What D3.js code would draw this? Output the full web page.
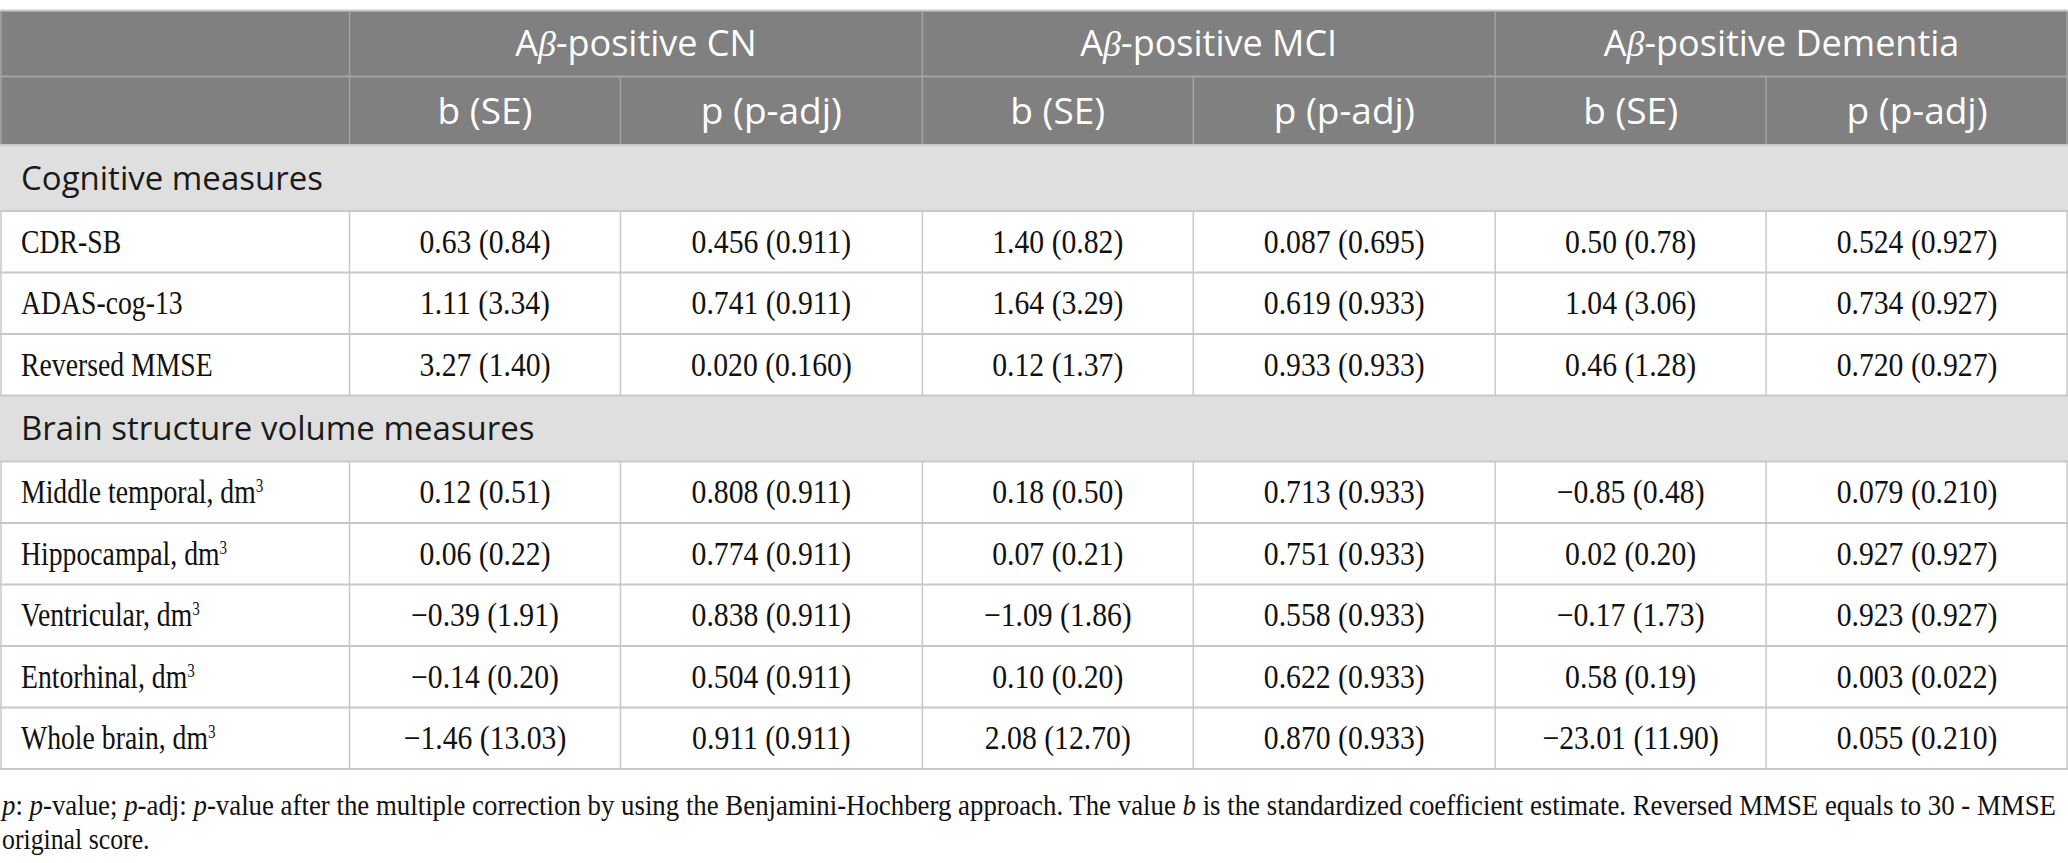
<!DOCTYPE html>
<html><head><meta charset="utf-8">
<script src="https://cdn.jsdelivr.net/npm/d3@7"></script>
<style>html,body{margin:0;padding:0;background:#fff;overflow:hidden} svg{display:block}</style>
</head><body><div id="chart"></div>
<script>
// ---- data ----
const groups = ["Aβ-positive CN", "Aβ-positive MCI", "Aβ-positive Dementia"];
const subHeaders = ["b (SE)", "p (p-adj)"];
const sections = ["Cognitive measures", "Brain structure volume measures"];
const cognitiveRows = ["CDR-SB", "ADAS-cog-13", "Reversed MMSE"];
const brainRows = ["Middle temporal", "Hippocampal", "Ventricular", "Entorhinal", "Whole brain"];
const cnB  = ["0.63 (0.84)", "1.11 (3.34)", "3.27 (1.40)", "0.12 (0.51)", "0.06 (0.22)", "−0.39 (1.91)", "−0.14 (0.20)", "−1.46 (13.03)"];
const cnP  = ["0.456 (0.911)", "0.741 (0.911)", "0.020 (0.160)", "0.808 (0.911)", "0.774 (0.911)", "0.838 (0.911)", "0.504 (0.911)", "0.911 (0.911)"];
const mciB = ["1.40 (0.82)", "1.64 (3.29)", "0.12 (1.37)", "0.18 (0.50)", "0.07 (0.21)", "−1.09 (1.86)", "0.10 (0.20)", "2.08 (12.70)"];
const mciP = ["0.087 (0.695)", "0.619 (0.933)", "0.933 (0.933)", "0.713 (0.933)", "0.751 (0.933)", "0.558 (0.933)", "0.622 (0.933)", "0.870 (0.933)"];
const demB = ["0.50 (0.78)", "1.04 (3.06)", "0.46 (1.28)", "−0.85 (0.48)", "0.02 (0.20)", "−0.17 (1.73)", "0.58 (0.19)", "−23.01 (11.90)"];
const demP = ["0.524 (0.927)", "0.734 (0.927)", "0.720 (0.927)", "0.079 (0.210)", "0.927 (0.927)", "0.923 (0.927)", "0.003 (0.022)", "0.055 (0.210)"];
const footLine1 = [["p", true], [": ", false], ["p", true], ["-value; ", false], ["p", true], ["-adj: ", false], ["p", true],
  ["-value after the multiple correction by using the Benjamini-Hochberg approach. The value ", false], ["b", true],
  [" is the standardized coefficient estimate. Reversed MMSE equals to 30 - MMSE", false]];
const footLine2 = "original score.";

// ---- layout ----
const W = 2068, H = 863;
const tableTop = 10.5, labelW = 349.5, bFrac = 0.473;
const rowH = {h1: 66, h2: 68.5, sec: 66, data: 61.5};
const headBg = "#808080", headLine = "#a3a3a3", secBg = "#e0dfe0", gridC = "#c8c8c8";
const sans = "'Open Sans', 'Noto Sans', sans-serif";
const serif = "'Liberation Serif', 'Times New Roman', serif";
const valSize = 33, valCond = 0.9, txtSize = 33, txtCond = 0.84;
const footSize = 30, footCond = 0.86, footLen = 2054;

const valueCols = [[cnB, cnP], [mciB, mciP], [demB, demP]];
const rows = [{type: "h1"}, {type: "h2"}, {type: "sec", label: sections[0]}];
cognitiveRows.forEach((l, i) => rows.push({type: "data", label: l, unit: false, i}));
rows.push({type: "sec", label: sections[1]});
brainRows.forEach((l, i) => rows.push({type: "data", label: l, unit: true, i: i + cognitiveRows.length}));
let acc = tableTop;
rows.forEach(r => { r.y0 = acc; r.h = rowH[r.type]; acc += r.h; r.y1 = acc; });
const tableBottom = acc;

const gx = d3.scaleBand().domain(groups).range([labelW, W]);
const bw = gx.bandwidth();
const colX = (gi, k) => gx(groups[gi]) + (k === 0 ? 0 : bw * bFrac);
const colW = k => k === 0 ? bw * bFrac : bw * (1 - bFrac);

const svg = d3.select("#chart").append("svg").attr("width", W).attr("height", H);

// backgrounds
svg.selectAll("rect.bg").data(rows.filter(r => r.type !== "data")).join("rect")
  .attr("x", 0).attr("y", d => d.y0).attr("width", W).attr("height", d => d.h)
  .attr("fill", d => d.type === "sec" ? secBg : headBg);

// vertical lines
const vLines = [];
rows.forEach(r => {
  if (r.type === "sec") return;
  const c = r.type === "data" ? gridC : headLine;
  vLines.push({x: labelW, y0: r.y0, y1: r.y1, c});
  groups.forEach((g, gi) => {
    if (gi > 0) vLines.push({x: gx(g), y0: r.y0, y1: r.y1, c});
    if (r.type !== "h1") vLines.push({x: colX(gi, 1), y0: r.y0, y1: r.y1, c});
  });
  vLines.push({x: 1, y0: r.y0, y1: r.y1, c});
  vLines.push({x: W - 1, y0: r.y0, y1: r.y1, c});
});
svg.selectAll("line.v").data(vLines).join("line")
  .attr("x1", d => d.x).attr("x2", d => d.x).attr("y1", d => d.y0).attr("y2", d => d.y1)
  .attr("stroke", d => d.c).attr("stroke-width", 1.5);

// horizontal lines
const hLines = rows.map(r => ({y: r.y0, c: (r.type === "h2") ? headLine : gridC}));
hLines.push({y: tableBottom, c: gridC});
svg.selectAll("line.h").data(hLines).join("line")
  .attr("x1", 0).attr("x2", W).attr("y1", d => d.y).attr("y2", d => d.y)
  .attr("stroke", d => d.c).attr("stroke-width", 2);

// header row 1
const h1 = rows[0], h2 = rows[1];
const gt = svg.selectAll("text.g").data(groups).join("text")
  .attr("x", d => gx(d) + bw / 2).attr("y", (h1.y0 + h1.y1) / 2).attr("dy", "0.36em")
  .attr("text-anchor", "middle").attr("fill", "#fff").attr("font-family", sans).attr("font-size", 36);
gt.each(function(d) {
  const t = d3.select(this);
  t.append("tspan").text("A");
  t.append("tspan").text("β").attr("font-family", serif).attr("font-style", "italic");
  t.append("tspan").text(d.slice(2));
});
// header row 2
const subs = [];
groups.forEach((g, gi) => subHeaders.forEach((s, k) => subs.push({x: colX(gi, k) + colW(k) / 2, s})));
svg.selectAll("text.s").data(subs).join("text")
  .attr("x", d => d.x).attr("y", (h2.y0 + h2.y1) / 2).attr("dy", "0.36em")
  .attr("text-anchor", "middle").attr("fill", "#fff").attr("font-family", sans).attr("font-size", 37)
  .text(d => d.s);

// section labels
svg.selectAll("text.sec").data(rows.filter(r => r.type === "sec")).join("text")
  .attr("x", 21).attr("y", d => (d.y0 + d.y1) / 2).attr("dy", "0.36em")
  .attr("fill", "#1a1a1a").attr("font-family", sans).attr("font-size", 33)
  .text(d => d.label);

// data labels
const dataRows = rows.filter(r => r.type === "data");
const lab = svg.selectAll("g.lab").data(dataRows).join("g")
  .attr("transform", d => `translate(21,${(d.y0 + d.y1) / 2}) scale(${txtCond},1)`)
  .append("text").attr("dy", "0.33em").attr("font-family", serif).attr("font-size", txtSize).attr("fill", "#111");
lab.each(function(d) {
  const t = d3.select(this);
  t.append("tspan").text(d.label + (d.unit ? ", dm" : ""));
  if (d.unit) t.append("tspan").text("3").attr("font-size", 18).attr("dy", "-0.6em");
});

// values
const cells = [];
dataRows.forEach(r => valueCols.forEach((pair, gi) => pair.forEach((arr, k) =>
  cells.push({x: colX(gi, k) + colW(k) / 2, y: (r.y0 + r.y1) / 2, v: arr[r.i]}))));
svg.selectAll("g.cell").data(cells).join("g")
  .attr("transform", d => `translate(${d.x},${d.y}) scale(${valCond},1)`)
  .append("text").attr("dy", "0.33em").attr("text-anchor", "middle")
  .attr("font-family", serif).attr("font-size", valSize).attr("fill", "#111").text(d => d.v);

// footnote
const f1 = svg.append("g").attr("transform", `translate(2,815) scale(${footCond},1)`)
  .append("text").attr("font-family", serif).attr("font-size", footSize).attr("fill", "#111")
  .attr("textLength", footLen / footCond).attr("lengthAdjust", "spacingAndGlyphs");
f1.selectAll("tspan").data(footLine1).join("tspan").text(d => d[0]).attr("font-style", d => d[1] ? "italic" : null);
svg.append("g").attr("transform", `translate(2,849) scale(${footCond},1)`)
  .append("text").attr("font-family", serif).attr("font-size", footSize).attr("fill", "#111").text(footLine2);
</script>
</body></html>
